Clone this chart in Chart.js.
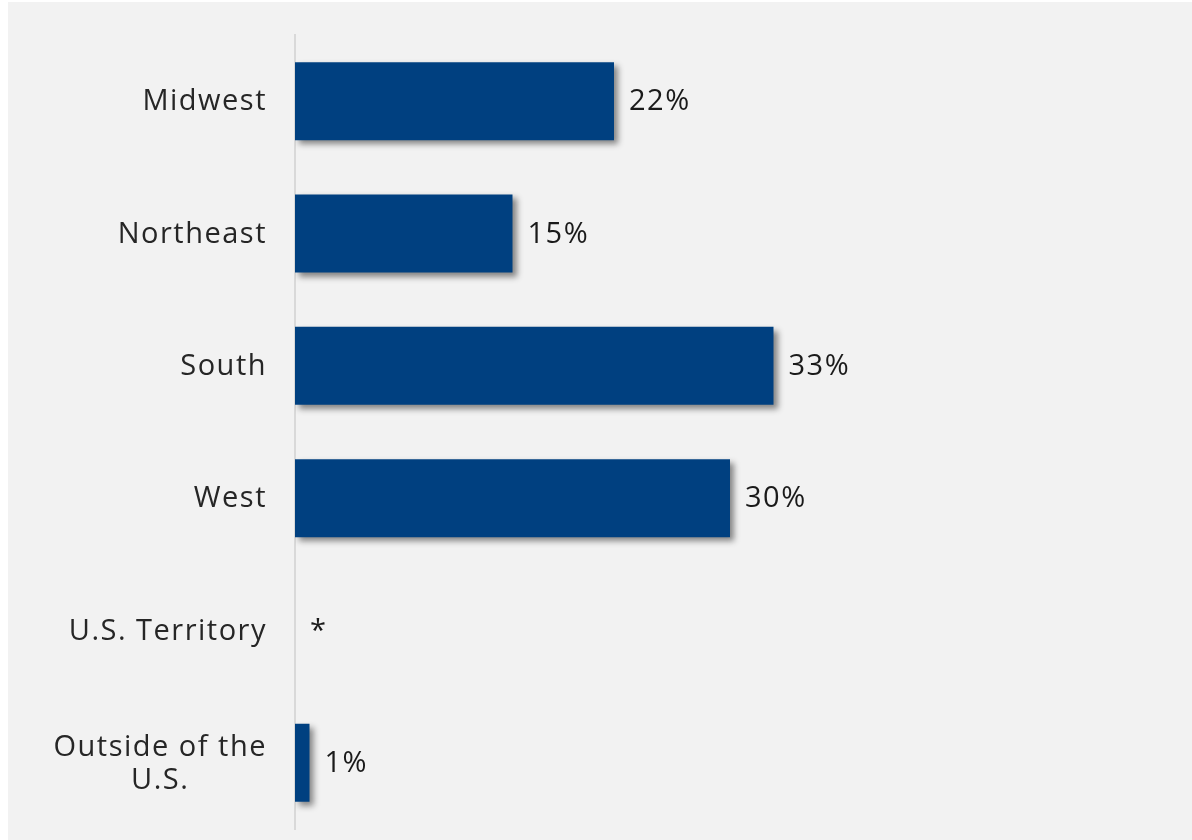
<!DOCTYPE html>
<html>
<head>
<meta charset="utf-8">
<script src="https://cdn.jsdelivr.net/npm/chart.js@4.4.1/dist/chart.umd.min.js"></script>
<style>
  html, body { margin: 0; padding: 0; background: #ffffff; }
  #wrap { position: absolute; left: 8px; top: 2px; width: 1184px; height: 838px; background: #f2f2f2; }
</style>
</head>
<body>
<div id="wrap"><canvas id="myChart" width="1184" height="838"></canvas></div>
<script>
// Regions and their share of respondents
var regions = ['Midwest', 'Northeast', 'South', 'West', 'U.S. Territory', ['Outside of the', 'U.S.']]
var shares = [22, 15, 33, 30, 0, 1]
// Text shown beside each bar (* = less than 1%)
var shareLabels = ['22%', '15%', '33%', '30%', '*', '1%']

var labelFont = '29px "Open Sans", sans-serif'

// Soft drop shadow under the bars
var barShadow = {
    id: 'barShadow',
    beforeDatasetsDraw(chart) {
        let ctx = chart.ctx
        ctx.save()
        ctx.shadowColor = 'rgba(0, 0, 0, 0.45)'
        ctx.shadowBlur = 6
        ctx.shadowOffsetX = 4
        ctx.shadowOffsetY = 4
    },
    afterDatasetsDraw(chart) {
        chart.ctx.restore()
    }
}

// Category names (right aligned, extra lines centred) and value labels
var textLabels = {
    id: 'textLabels',
    afterDraw(chart) {
        let ctx = chart.ctx
        let yScale = chart.scales.y
        let meta = chart.getDatasetMeta(0)
        ctx.save()
        ctx.font = labelFont
        ctx.letterSpacing = '1.5px'
        ctx.textBaseline = 'middle'
        let right = chart.chartArea.left - 28
        let lineHeight = 33
        regions.forEach(function(name, i) {
            let y = yScale.getPixelForValue(i) + 1
            ctx.fillStyle = '#262626'
            if (Array.isArray(name)) {
                let widest = Math.max.apply(null, name.map(function(t) { return ctx.measureText(t).width }))
                let centre = right - widest / 2
                let top = y - (name.length - 1) * lineHeight / 2
                ctx.textAlign = 'center'
                name.forEach(function(t, k) {
                    ctx.fillText(t, centre, top + k * lineHeight)
                })
            } else {
                ctx.textAlign = 'right'
                ctx.fillText(name, right, y)
            }
            let bar = meta.data[i]
            ctx.textAlign = 'left'
            ctx.fillStyle = '#1a1a1a'
            ctx.fillText(shareLabels[i], bar.x + 15, y)
        })
        ctx.restore()
    }
}

let ctx = document.getElementById('myChart').getContext('2d')
var chart = new Chart(ctx, {
    type: 'bar',
    data: {
        labels: regions,
        datasets: [{
            data: shares,
            backgroundColor: '#004080',
            borderWidth: 0,
            categoryPercentage: 1,
            barPercentage: 0.59
        }]
    },
    options: {
        indexAxis: 'y',
        responsive: false,
        animation: false,
        layout: { padding: { top: 33, bottom: 11, right: 27, left: 0 } },
        plugins: {
            legend: { display: false },
            tooltip: { enabled: false }
        },
        scales: {
            x: {
                display: false,
                min: 0,
                max: 60
            },
            y: {
                grid: { display: false },
                border: { display: true, color: '#d9d9d9', width: 2 },
                ticks: { display: false },
                afterFit: function(scale) { scale.width = 287 }
            }
        }
    },
    plugins: [barShadow, textLabels]
})
</script>
</body>
</html>
